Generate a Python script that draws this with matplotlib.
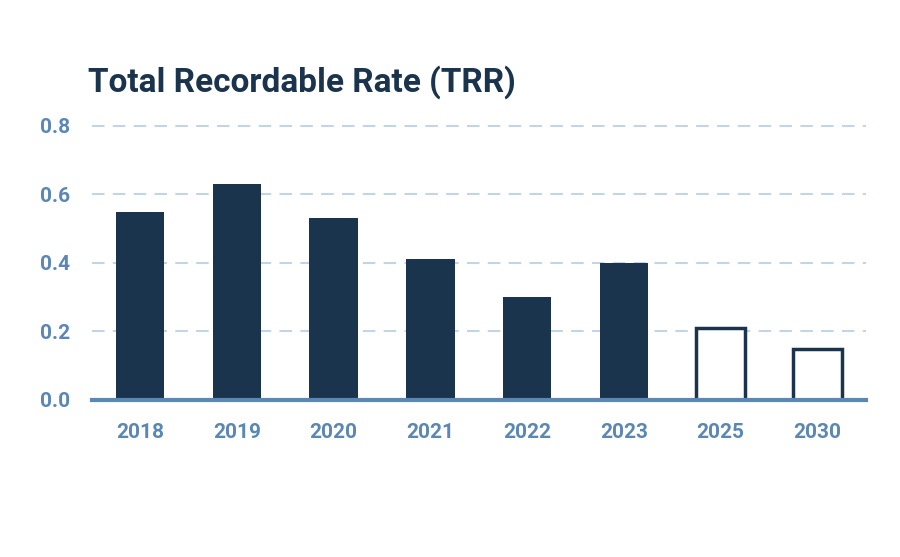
import matplotlib
matplotlib.use("Agg")
import matplotlib.pyplot as plt

years = ["2018", "2019", "2020", "2021", "2022", "2023", "2025", "2030"]
values = [0.55, 0.63, 0.53, 0.41, 0.30, 0.40, 0.21, 0.15]
is_target = [False, False, False, False, False, False, True, True]
yticks = [0.0, 0.2, 0.4, 0.6, 0.8]

navy = "#1b344d"
tick_blue = "#5b87b5"
grid_blue = "#c3d4e4"

plt.rcParams['font.family'] = ['Roboto', 'DejaVu Sans']

fig = plt.figure(figsize=(9, 5.57), dpi=100)
ax = fig.add_axes([0.102, 0.282, 0.86, 0.492])

x = list(range(len(years)))
for xi, v, t in zip(x, values, is_target):
    if t:
        ax.bar(xi, v, width=0.5, facecolor="white", edgecolor=navy, linewidth=2.5, zorder=3)
    else:
        ax.bar(xi, v, width=0.5, color=navy, zorder=3)

ax.set_xlim(-0.5, len(years) - 0.5)
ax.set_ylim(0, 0.8)
ax.set_yticks(yticks)
ax.set_yticklabels([f"{t:.1f}" for t in yticks])
ax.set_xticks(x)
ax.set_xticklabels(years)

for t in yticks[1:]:
    ax.axhline(t, color=grid_blue, linewidth=1.5, linestyle=(0, (6, 4)), zorder=1, clip_on=False)

for s in ["top", "right", "left"]:
    ax.spines[s].set_visible(False)
ax.spines["bottom"].set_color(tick_blue)
ax.spines["bottom"].set_linewidth(3)
ax.spines["bottom"].set_zorder(4)

ax.tick_params(axis="both", length=0, labelcolor=tick_blue, labelsize=15)
ax.tick_params(axis="x", pad=16.5)
for lbl in ax.get_xticklabels() + ax.get_yticklabels():
    lbl.set_fontweight("bold")
for lbl in ax.get_yticklabels():
    lbl.set_horizontalalignment("left")
ax.yaxis.set_tick_params(pad=37)

fig.text(0.098, 0.835, "Total Recordable Rate (TRR)", fontsize=24, fontweight="bold", color=navy, ha="left", va="baseline")

fig.savefig("out.png", dpi=100, facecolor="white")
